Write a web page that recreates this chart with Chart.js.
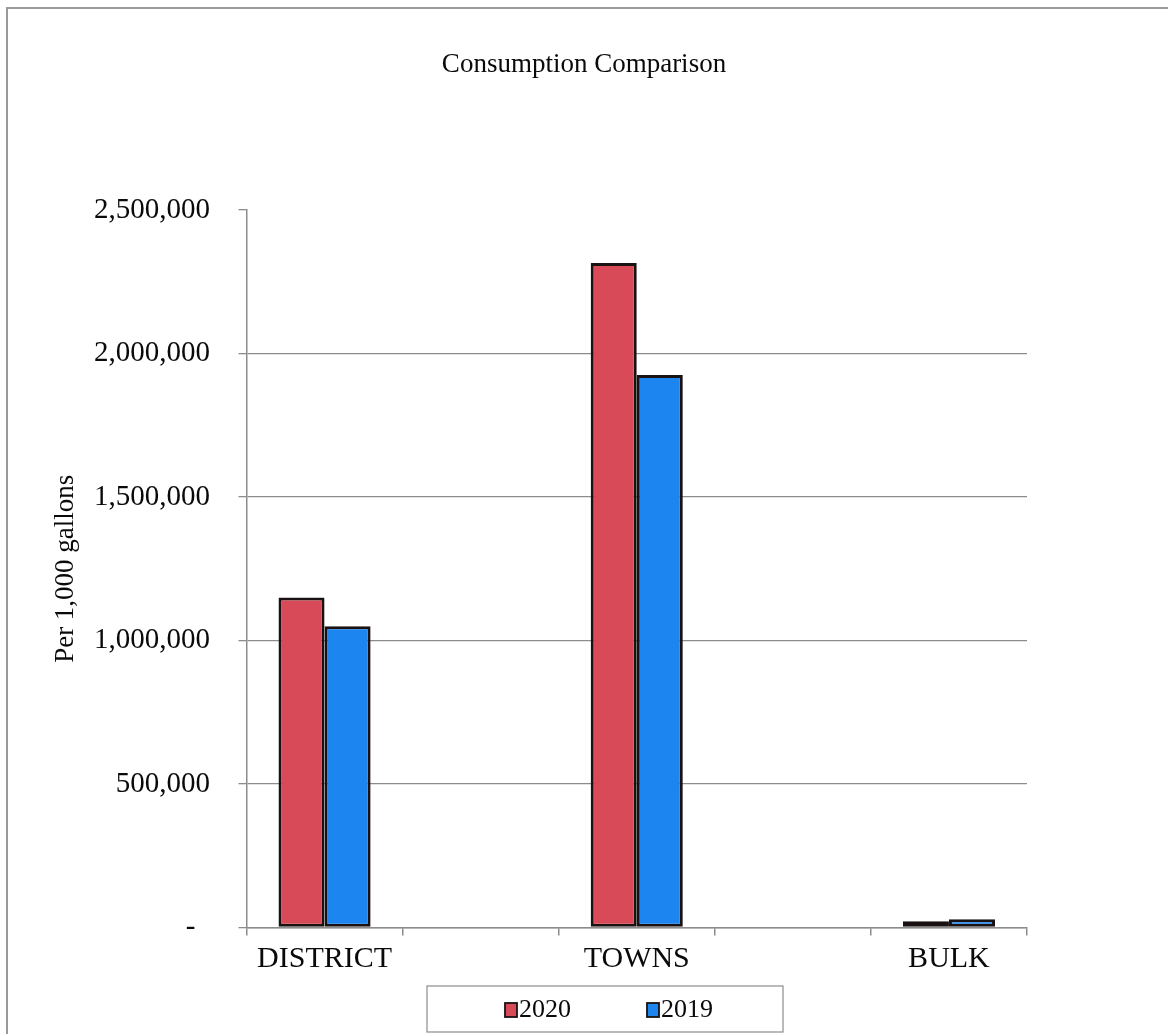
<!DOCTYPE html>
<html>
<head>
<meta charset="utf-8">
<title>Consumption Comparison</title>
<script src="https://cdn.jsdelivr.net/npm/chart.js@4/dist/chart.umd.min.js"></script>
<style>
  html, body { margin: 0; padding: 0; background: #ffffff; }
  canvas { display: block; }
</style>
</head>
<body>
<canvas id="chart" width="1168" height="1034"></canvas>
<script>
// Category slots: the blank slots are spacers between the three groups
const categories = ['DISTRICT', '', 'TOWNS', '', 'BULK'];
const seriesNames = ['2020', '2019'];
const values2020 = [1150000, null, 2315000, null, 22000];
const values2019 = [1050000, null, 1925000, null, 29000];
const yTickValues = [0, 500000, 1000000, 1500000, 2000000, 2500000];

const FONT = 'Liberation Serif, Times New Roman, serif';
const AXIS_GREY = '#8c8c8c';
const BAR_EDGE = '#1a1212';
const TEXT = '#0a0a0a';
const seriesColors = ['#d94a58', '#1c85f0'];

// Thin border around the whole picture
const framePlugin = {
  id: 'frame',
  beforeDraw(chart) {
    const ctx = chart.ctx;
    ctx.save();
    ctx.strokeStyle = '#9a9a9a';
    ctx.lineWidth = 2;
    ctx.beginPath();
    ctx.moveTo(7, 1034);
    ctx.lineTo(7, 8);
    ctx.lineTo(1168, 8);
    ctx.stroke();
    ctx.restore();
  }
};

// Boxed legend under the category labels
const boxedLegend = {
  id: 'boxedLegend',
  afterDraw(chart, args, opts) {
    const ctx = chart.ctx;
    ctx.save();
    ctx.strokeStyle = AXIS_GREY;
    ctx.lineWidth = 1.2;
    ctx.strokeRect(opts.x, opts.y, opts.w, opts.h);
    ctx.font = opts.fontSize + 'px ' + FONT;
    ctx.textBaseline = 'middle';
    ctx.textAlign = 'left';
    const cy = opts.y + opts.h / 2 + 1;
    chart.data.datasets.forEach((ds, i) => {
      const x = opts.itemX[i];
      ctx.fillStyle = ds.backgroundColor;
      ctx.fillRect(x, cy - 7, 12, 14);
      ctx.strokeStyle = BAR_EDGE;
      ctx.lineWidth = 1.8;
      ctx.strokeRect(x, cy - 7, 12, 14);
      ctx.fillStyle = TEXT;
      ctx.fillText(ds.label, x + 14, cy);
    });
    ctx.restore();
  }
};

new Chart(document.getElementById('chart'), {
  type: 'bar',
  data: {
    labels: categories,
    datasets: [
      {
        label: seriesNames[0],
        data: values2020,
        backgroundColor: seriesColors[0],
        borderColor: BAR_EDGE,
        borderWidth: 3,
        borderSkipped: false
      },
      {
        label: seriesNames[1],
        data: values2019,
        backgroundColor: seriesColors[1],
        borderColor: BAR_EDGE,
        borderWidth: 3,
        borderSkipped: false
      }
    ]
  },
  options: {
    responsive: false,
    devicePixelRatio: 1,
    animation: false,
    datasets: {
      bar: { categoryPercentage: 0.59, barPercentage: 1.0 }
    },
    layout: { padding: 0 },
    plugins: {
      legend: { display: false },
      tooltip: { enabled: false },
      title: {
        display: true,
        text: 'Consumption Comparison',
        color: TEXT,
        font: { family: FONT, size: 27, weight: 'normal' },
        padding: { top: 49, bottom: 128.6 }
      },
      boxedLegend: {
        x: 427, y: 986, w: 356, h: 46,
        itemX: [505, 647],
        fontSize: 26
      }
    },
    scales: {
      x: {
        type: 'category',
        offset: true,
        grid: {
          offset: true,
          drawOnChartArea: false,
          drawTicks: true,
          tickLength: 8,
          color: AXIS_GREY,
          lineWidth: 1.5
        },
        border: { display: true, color: AXIS_GREY, width: 1.5 },
        ticks: {
          autoSkip: false,
          maxRotation: 0,
          color: TEXT,
          padding: 6,
          font: { family: FONT, size: 30 }
        },
        afterFit(scale) { scale.height = 106.5; }
      },
      y: {
        position: 'left',
        min: 0,
        max: 2500000,
        afterBuildTicks(scale) {
          scale.ticks = yTickValues.map(v => ({ value: v }));
        },
        grid: {
          color: ctx => (ctx.tick && ctx.tick.value === 2500000) ? 'rgba(0,0,0,0)' : AXIS_GREY,
          tickColor: AXIS_GREY,
          lineWidth: 1.3,
          drawTicks: true,
          tickLength: 8
        },
        border: { display: true, color: AXIS_GREY, width: 1.5 },
        ticks: {
          color: TEXT,
          padding: 28.5,
          font: { family: FONT, size: 29 },
          callback: v => v === 0 ? '-  ' : Number(v).toLocaleString('en-US')
        },
        title: {
          display: true,
          text: 'Per 1,000 gallons',
          color: TEXT,
          font: { family: FONT, size: 27 },
          padding: { top: 50, bottom: 0 }
        },
        afterFit(scale) { scale.width = 246.5; }
      },
      // empty right-hand gutter that keeps the plot's right edge inside the frame
      gutter: {
        type: 'linear',
        position: 'right',
        display: true,
        grid: { display: false, drawTicks: false },
        border: { display: false },
        ticks: { display: false },
        afterFit(scale) { scale.width = 141; }
      }
    }
  },
  plugins: [framePlugin, boxedLegend]
});
</script>
</body>
</html>
